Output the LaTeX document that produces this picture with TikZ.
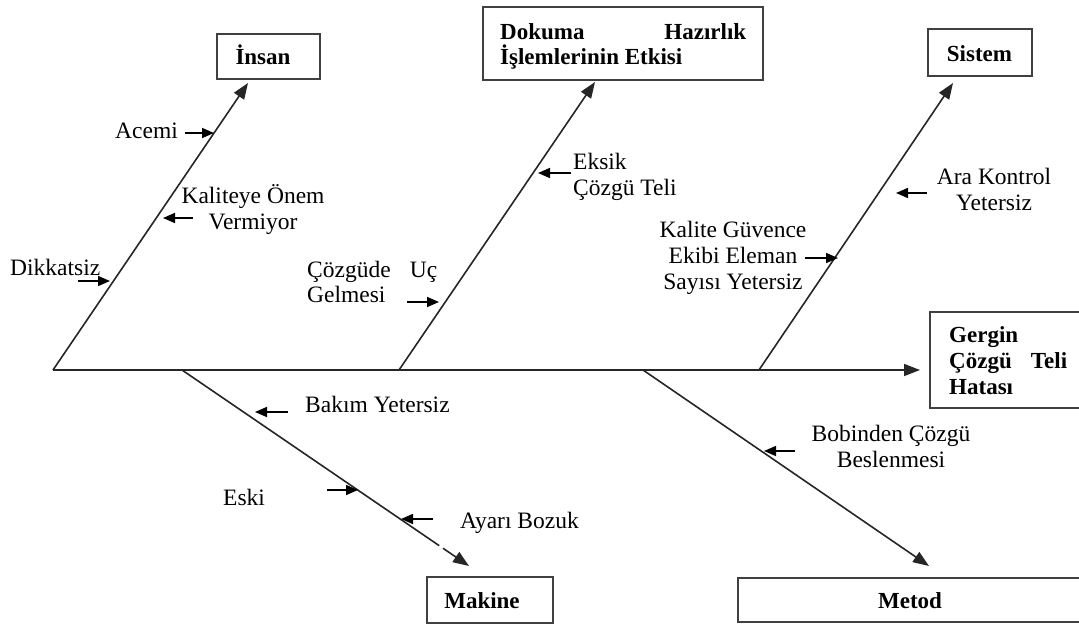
\documentclass[tikz,border=0pt]{standalone}
\usepackage{fontspec}
\setmainfont{Liberation Serif}
\usetikzlibrary{arrows.meta}
\newcommand{\tabC}[1]{\begin{tabular}[t]{@{}c@{}}#1\end{tabular}}
\newcommand{\tabL}[1]{\begin{tabular}[t]{@{}l@{}}#1\end{tabular}}
\begin{document}
\begin{tikzpicture}[x=1pt,y=-1pt,
  every node/.style={font=\fontsize{23.5}{26}\selectfont, inner sep=0pt},
  box/.style={draw=black!75, line width=1.6pt, rectangle},
  bone/.style={draw=black!85, line width=1.6pt, -{Triangle[length=16pt,width=12pt]}},
  cause/.style={draw=black, line width=1.6pt, -{Triangle[length=12pt,width=10pt]}},
  lbl/.style={anchor=base west},
  clbl/.style={anchor=base},
  title/.style={font=\fontsize{23}{26}\selectfont\bfseries}]
\useasboundingbox (0,0) rectangle (1079,626);

% boxes
\node[box, minimum width=103pt, minimum height=45pt] (insan) at (268.5,56.5) {};
\node[box, minimum width=280pt, minimum height=73pt] (dokuma) at (623,43.5) {};
\node[box, minimum width=104pt, minimum height=47pt] (sistem) at (980,52.5) {};
\node[box, minimum width=165pt, minimum height=96pt] (gergin) at (1012.5,360) {};
\node[box, minimum width=126pt, minimum height=46pt] (makine) at (490,600) {};
\node[box, minimum width=357pt, minimum height=44pt] (metod) at (916.5,600) {};

% box titles
\node[title, clbl] (tinsan) at (263,65) {İnsan};
\node[title, lbl] (tdokuma) at (500,40) {\parbox[t]{246pt}{Dokuma\hfill Hazırlık\\[-1pt]İşlemlerinin Etkisi}};
\node[title, clbl] (tsistem) at (979.5,62) {Sistem};
\node[title, lbl] (tgergin) at (949,342) {\parbox[t]{118pt}{Gergin\\Çözgü\hfill Teli\\Hatası}};
\node[title, clbl] (tmakine) at (482,608) {Makine};
\node[title, clbl] (tmetod) at (910,608) {Metod};

% bone coordinates
\coordinate (head) at (53,370);
\coordinate (effect) at (920,370);
\coordinate (b1) at (399,370);
\coordinate (b2) at (759,370);
\coordinate (b3) at (182,370);
\coordinate (b4) at (643,370);
\coordinate (t1) at (248,83);
\coordinate (t2) at (595,82);
\coordinate (t3) at (953,83);
\coordinate (t4) at (469,566);
\coordinate (t5) at (929,566);

\draw[bone] (head) -- (effect);
\draw[bone] (head) -- (t1);
\draw[bone] (b1) -- (t2);
\draw[bone] (b2) -- (t3);
\draw[bone] (b3) -- (t4);
\draw[bone] (b4) -- (t5);
\draw[white, line width=3pt] (439.5,545.5) -- (443,548);

% cause labels
\node[lbl] (acemi) at (115,138) {Acemi};
\node[clbl] (kaliteye) at (253,203) {\tabC{Kaliteye Önem\\Vermiyor}};
\node[lbl] (dikkat) at (10,275) {Dikkatsiz};
\node[lbl] (ucgel) at (307,277) {\parbox[t]{130pt}{Çözgüde\hfill Uç\\[-1pt]Gelmesi}};
\node[lbl] (eksik) at (573,169) {\tabL{Eksik\\Çözgü Teli}};
\node[clbl] (kalite) at (733,237) {\tabC{Kalite Güvence\\Ekibi Eleman\\Sayısı Yetersiz}};
\node[clbl] (ara) at (994,184) {\tabC{Ara Kontrol\\Yetersiz}};
\node[lbl] (bakim) at (305,412) {Bakım Yetersiz};
\node[lbl] (eski) at (223,505) {Eski};
\node[lbl] (ayar) at (460,528) {Ayarı Bozuk};
\node[clbl] (bobin) at (891,441) {\tabC{Bobinden Çözgü\\Beslenmesi}};

% cause arrows
\draw[cause] (185,133) -- (214,133);
\draw[cause] (193,218) -- (163,218);
\draw[cause] (78,281) -- (110,281);
\draw[cause] (407,302) -- (439,302);
\draw[cause] (571,173) -- (538,173);
\draw[cause] (805,258) -- (838,258);
\draw[cause] (927,193) -- (896,193);
\draw[cause] (288,412) -- (255,412);
\draw[cause] (327,490) -- (358,490);
\draw[cause] (433,519) -- (401,519);
\draw[cause] (795,451) -- (764,451);
\end{tikzpicture}
\end{document}
